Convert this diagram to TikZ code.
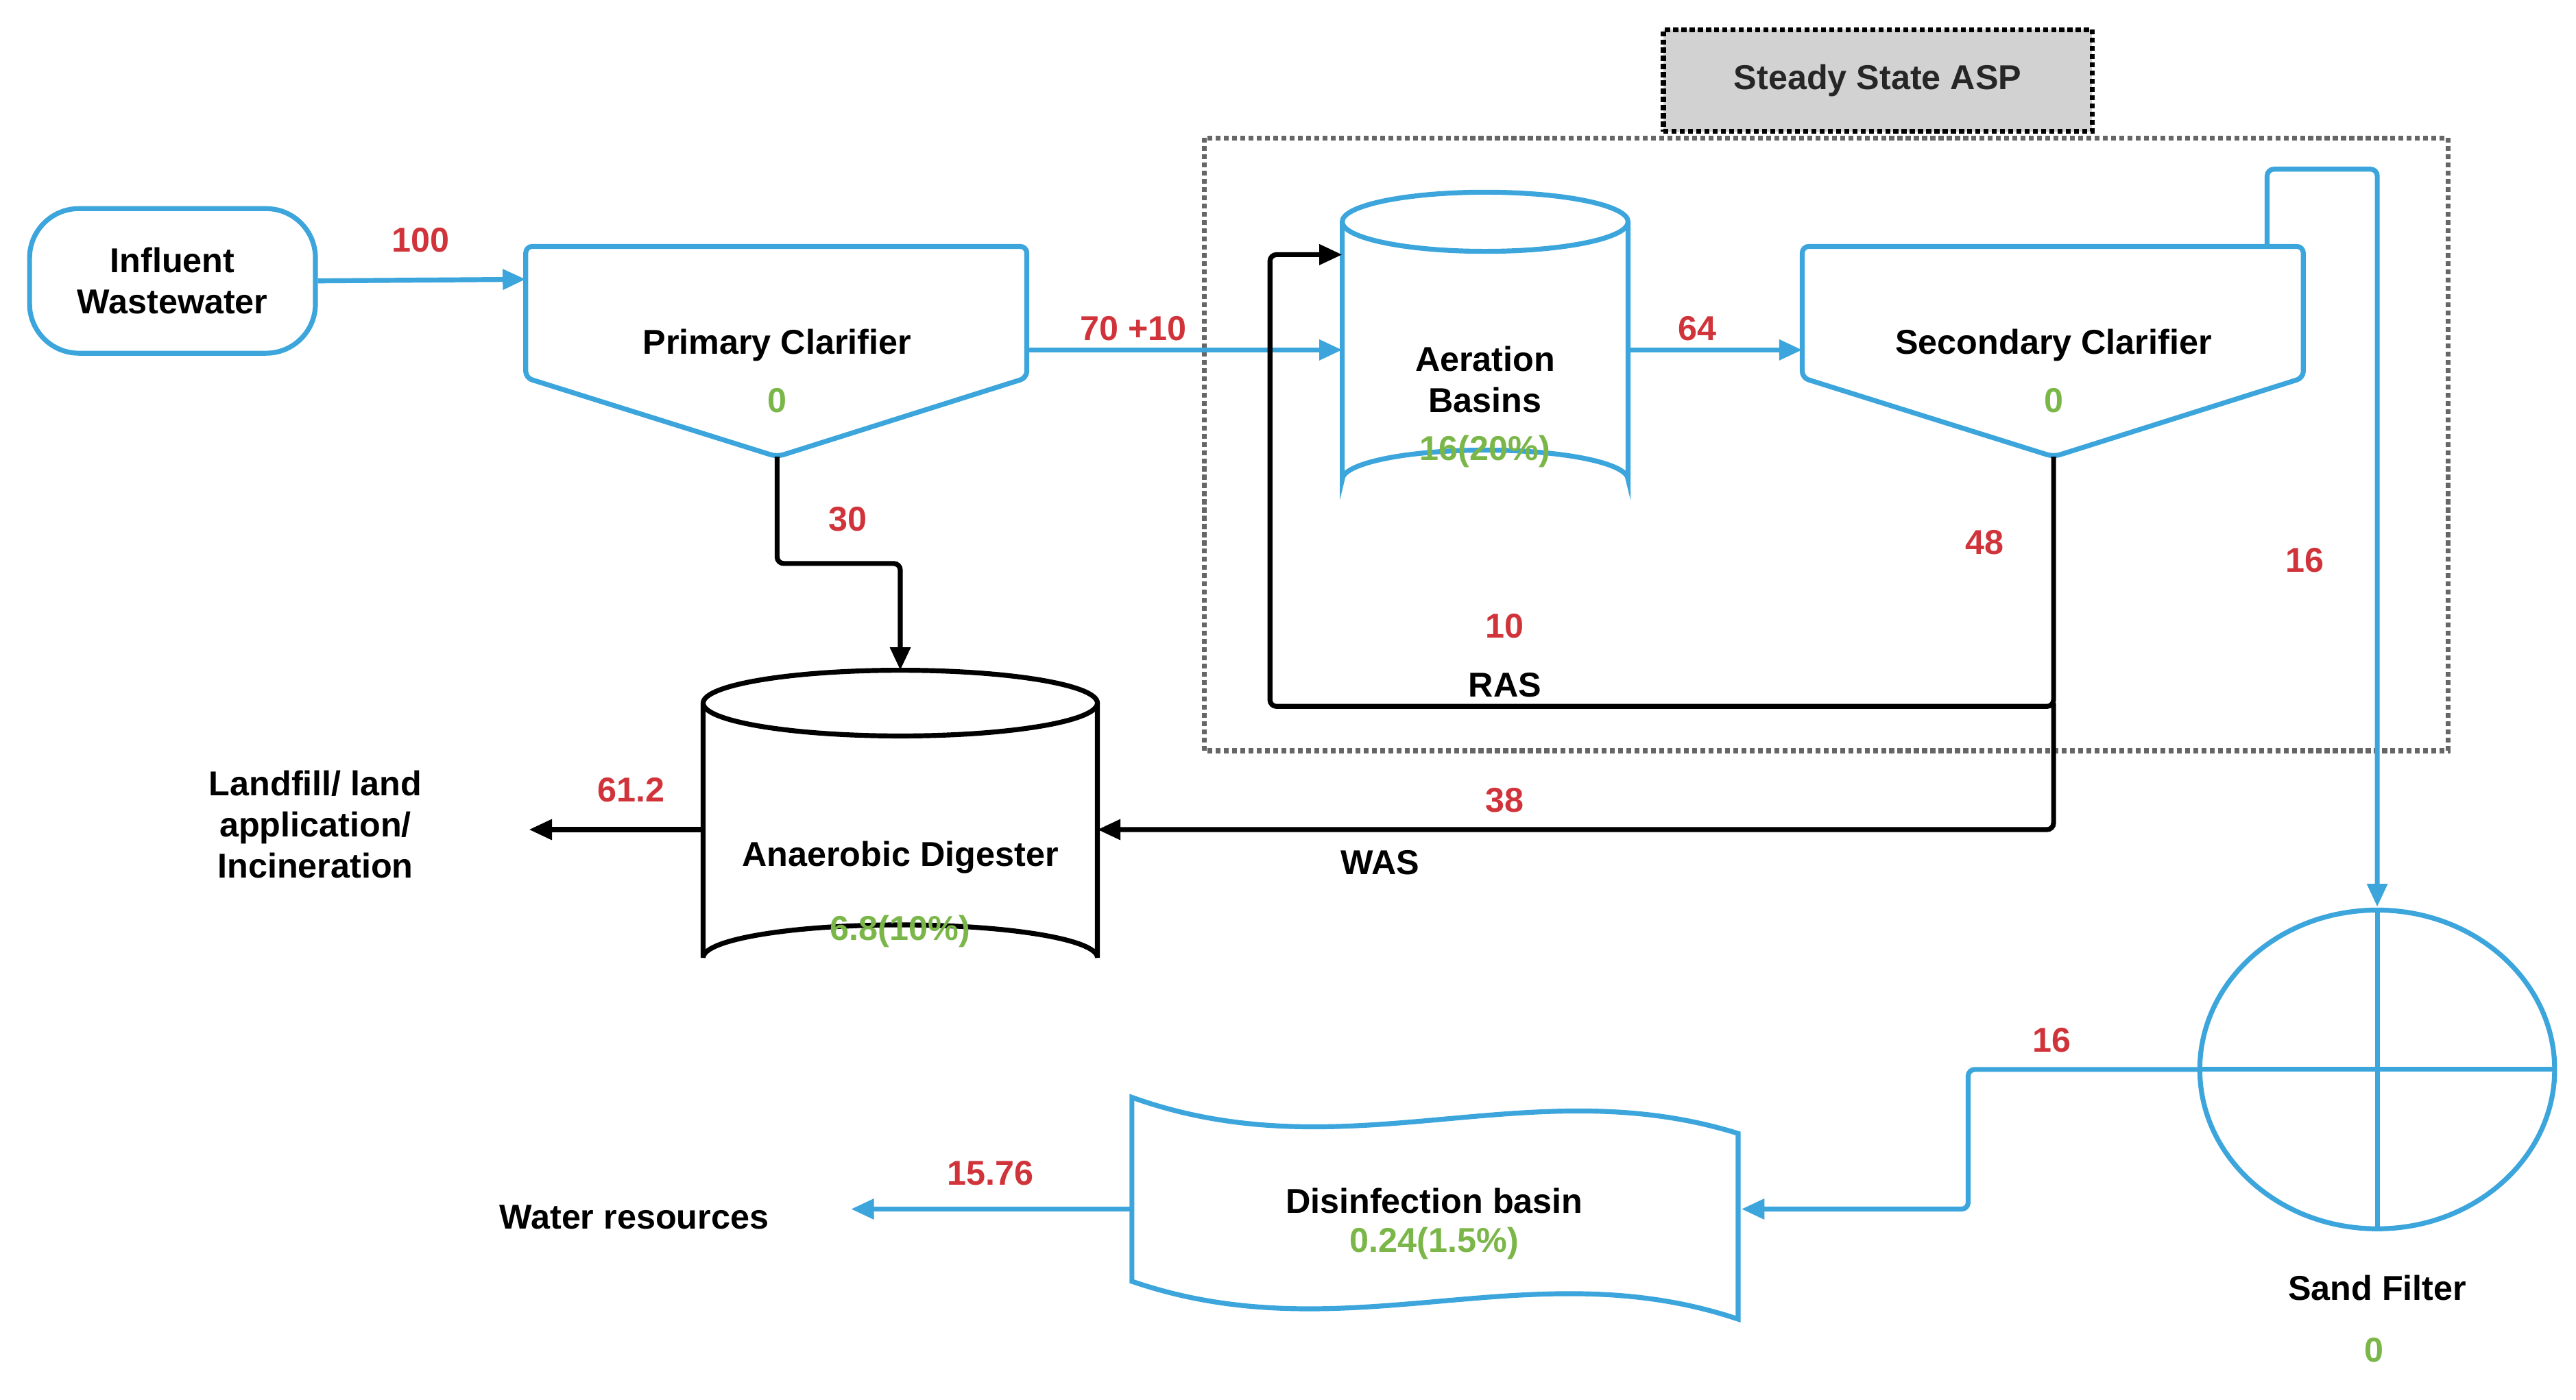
\documentclass[tikz,border=0pt]{standalone}
\usepackage{fontspec}
\setmainfont{Liberation Sans}
\usetikzlibrary{arrows.meta,shapes.geometric}
\definecolor{bl}{HTML}{3BA5DC}
\definecolor{rd}{HTML}{D0343A}
\definecolor{gr}{HTML}{7AB648}
\begin{document}
\begin{tikzpicture}[x=1pt,y=-1pt,
 every node/.style={font=\fontsize{21}{25}\selectfont\bfseries,align=center,inner sep=0},
 bk/.style={line width=3pt,black,rounded corners=4pt},
 bs/.style={line width=3pt,bl,rounded corners=4pt},
 arr/.style={-{Triangle[length=14pt,width=12pt]}},
 num/.style={text=rd},
 val/.style={text=gr}]
\useasboundingbox (0,0) rectangle (1568,852);
% dotted ASP
\draw[line width=3pt,gray!80!black,dotted] (733,84) rectangle (1490,457);
\node[draw=black,dotted,line width=3pt,fill=gray!35,minimum width=261pt,minimum height=62pt,text=gray!30!black] (asp) at (1143,49) {Steady State ASP};
% influent
\node[draw=bl,line width=3pt,rounded corners=30pt,minimum width=174pt,minimum height=88pt] (inf) at (105,171) {Influent\\Wastewater};
% primary clarifier
\draw[bs] (320,150)--(625,150)--(625,230)--(473,278)--(320,230)--cycle;
\coordinate (pcl) at (320,170); \coordinate (pcr) at (625,213); \coordinate (pcb) at (473,278);
\node (pc) at (473,210) {Primary Clarifier};
\node[val] (pc0) at (473,244) {0};
% secondary clarifier
\draw[bs] (1097,150)--(1402,150)--(1402,230)--(1250,278)--(1097,230)--cycle;
\coordinate (scl) at (1097,213); \coordinate (scb) at (1250,278); \coordinate (sct) at (1380,150);
\node (sc) at (1250,210) {Secondary Clarifier};
\node[val] (sc0) at (1250,244) {0};
% aeration cylinder
\draw[bs,rounded corners=0] (817,135)--(817,292) arc[start angle=180,end angle=360,x radius=87,y radius=18]--(991,135);
\draw[bs,rounded corners=0] (904,135) ellipse[x radius=87,y radius=18];
\coordinate (abl) at (817,213); \coordinate (abr) at (991,213); \coordinate (abt) at (817,155);
\node (ab) at (904,231) {Aeration\\Basins};
\node[val] (ab0) at (904,275) {16(20\%)};
% digester cylinder
\draw[bk,rounded corners=0] (428,428)--(428,583) arc[start angle=180,end angle=360,x radius=120,y radius=20]--(668,428);
\draw[bk,rounded corners=0] (548,428) ellipse[x radius=120,y radius=20];
\coordinate (adt) at (548,408); \coordinate (adr) at (668,505); \coordinate (adl) at (428,505);
\node (ad) at (548,522) {Anaerobic Digester};
\node[val] (ad0) at (548,567) {6.8(10\%)};
% sand filter
\draw[line width=3pt,bl] (1447,651) ellipse[x radius=108,y radius=97];
\draw[line width=3pt,bl] (1340,651)--(1555,651) (1447,554)--(1447,748);
\coordinate (sft) at (1447,552); \coordinate (sfl) at (1340,651);
\node (sf) at (1447,784) {Sand Filter};
\node[val] (sf0) at (1445,822) {0};
% disinfection
\draw[line width=3pt,bl] (689,668) .. controls (820,715) and (930,650) .. (1058,690) -- (1058,803) .. controls (930,760) and (820,825) .. (689,780) -- cycle;
\coordinate (dbr) at (1060,736); \coordinate (dbl) at (689,736);
\node (db) at (873,731) {Disinfection basin};
\node[val] (db0) at (873,757) {0.24(1.5\%)};
% text ends
\coordinate (lf) at (322,505); \coordinate (wr) at (518,736);
\node (lft) at (192,502) {Landfill/ land\\application/\\Incineration};
\node (wrt) at (386,741) {Water resources};
% connectors
\draw[bs,arr] (inf.east)--(pcl);
\draw[bs,arr] (pcr)--(abl);
\draw[bs,arr] (abr)--(scl);
\draw[bs,arr] (sct)--(1380,103)--(1447,103)--(sft);
\draw[bk,arr] (scb)--(1250,430)--(773,430)--(773,155)--(abt);
\draw[bk,arr] (1250,428)--(1250,505)--(adr);
\draw[bk,arr] (pcb)--(473,343)--(548,343)--(adt);
\draw[bk,arr,rounded corners=0] (adl)--(lf);
\draw[bs,arr] (sfl)--(1198,651)--(1198,736)--(dbr);
\draw[bs,arr,rounded corners=0] (dbl)--(wr);
% labels
\node[num] at (256,146) {100};
\node[num] at (690,200) {70 +10};
\node[num] at (1033,200) {64};
\node[num] at (516,316) {30};
\node[num] at (1208,330) {48};
\node[num] at (1403,341) {16};
\node[num] at (916,381) {10};
\node at (916,417) {RAS};
\node[num] at (916,487) {38};
\node at (840,525) {WAS};
\node[num] at (384,481) {61.2};
\node[num] at (1249,633) {16};
\node[num] at (603,714) {15.76};
\end{tikzpicture}
\end{document}
